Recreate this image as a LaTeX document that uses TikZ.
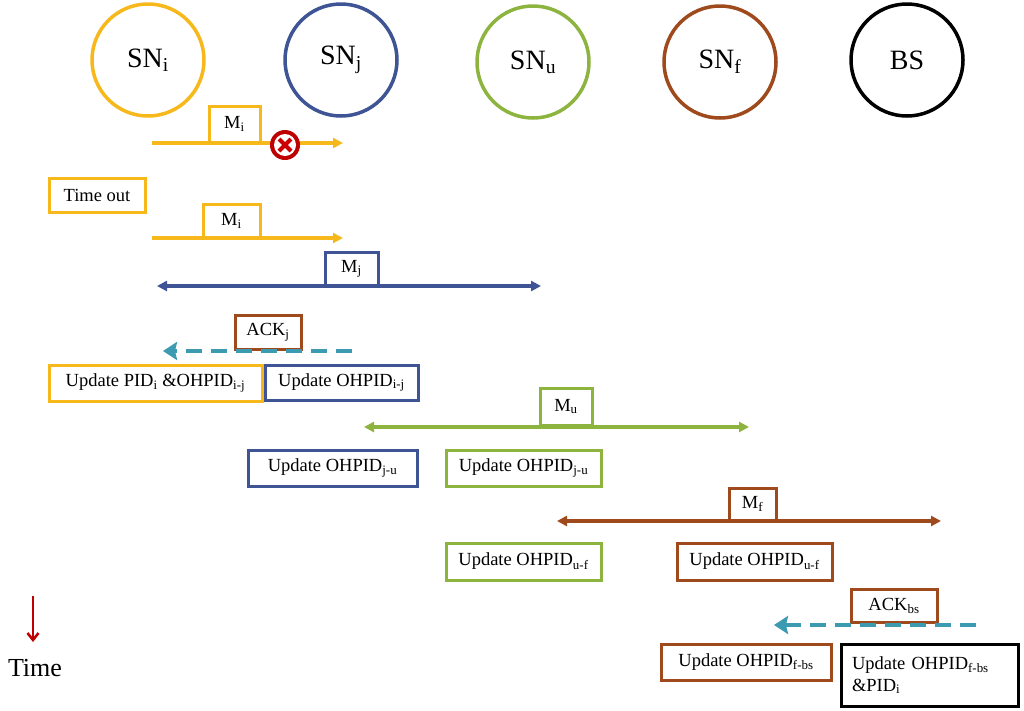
\documentclass[tikz,border=0pt]{standalone}
\usepackage{fontspec}
\setmainfont{Liberation Serif}
\usetikzlibrary{arrows.meta}
\definecolor{cy}{HTML}{F7B81C}
\definecolor{cb}{HTML}{3E5494}
\definecolor{cg}{HTML}{8DB43E}
\definecolor{cr}{HTML}{9E4A1C}
\definecolor{ct}{HTML}{3C9BB0}
\begin{document}
\begin{tikzpicture}[x=1pt,y=-1pt,
 sn/.style={circle,draw=#1,line width=3.5pt,minimum size=112pt,inner sep=0pt,font=\fontsize{28}{32}\selectfont},
 bx/.style={draw=#1,line width=3pt,inner sep=0pt,font=\fontsize{18.5}{22}\selectfont,fill=white},
 ar/.style={draw=#1,line width=3.5pt,-{Triangle[length=10pt,width=10pt]}},
 dar/.style={draw=#1,line width=3.5pt,{Triangle[length=10pt,width=10pt]}-{Triangle[length=10pt,width=10pt]}},
 dsh/.style={draw=ct,line width=4.5pt,dash pattern=on 16pt off 9pt,-{Stealth[length=14pt,width=18pt,inset=2pt]}}]
\useasboundingbox (0,0) rectangle (1024,710);
\node[sn=cy] (si) at (148,60) {SN\textsubscript{i}};
\node[sn=cb] (sj) at (341,60) {SN\textsubscript{j}};
\node[sn=cg] (su) at (533,62) {SN\textsubscript{u}};
\node[sn=cr] (sf) at (720,62) {SN\textsubscript{f}};
\node[sn=black] (bs) at (907,60) {BS};
\coordinate (a1s) at (152,143); \coordinate (a1e) at (343,143);
\draw[ar=cy] (a1s) -- (a1e);
\node[bx=cy,minimum width=51pt,minimum height=36pt] (m1) at (234.5,124) {M\textsubscript{i}};
\node[circle,fill=red!75!black,minimum size=30pt,inner sep=0pt] (x) at (285,145) {};
\node[circle,fill=white,minimum size=22pt,inner sep=0pt] at (x) {};
\draw[red!80!black,line width=4pt] ([shift={(-6,-6)}]x.center) -- ([shift={(6,6)}]x.center) ([shift={(-6,6)}]x.center) -- ([shift={(6,-6)}]x.center);
\node[bx=cy,minimum width=96pt,minimum height=34pt] (to) at (97,195) {Time out};
\coordinate (a2s) at (152,238); \coordinate (a2e) at (343,238);
\draw[ar=cy] (a2s) -- (a2e);
\node[bx=cy,minimum width=57pt,minimum height=33pt] (m2) at (231.5,221) {M\textsubscript{i}};
\coordinate (a3s) at (157,286); \coordinate (a3e) at (541,286);
\draw[dar=cb] (a3s) -- (a3e);
\node[bx=cb,minimum width=53pt,minimum height=33pt] (mj) at (351.5,269) {M\textsubscript{j}};
\node[bx=cr,minimum width=66pt,minimum height=34pt] (ackj) at (268,332) {ACK\textsubscript{j}};
\coordinate (d1s) at (352,351); \coordinate (d1e) at (163,351);
\draw[dsh] (d1s) -- (d1e);
\node[bx=cy,minimum width=213pt,minimum height=36pt] (u1) at (155.5,383) {Update PID\textsubscript{i} \&OHPID\textsubscript{i-j}};
\node[bx=cb,minimum width=153pt,minimum height=35pt] (u2) at (341.5,382.5) {Update OHPID\textsubscript{i-j}};
\coordinate (a4s) at (364,427); \coordinate (a4e) at (749,427);
\draw[dar=cg] (a4s) -- (a4e);
\node[bx=cg,minimum width=52pt,minimum height=37pt] (mu) at (566,406.5) {M\textsubscript{u}};
\node[bx=cb,minimum width=169pt,minimum height=36pt] (u3) at (332.5,468) {Update OHPID\textsubscript{j-u}};
\node[bx=cg,minimum width=155pt,minimum height=36pt] (u4) at (523.5,468) {Update OHPID\textsubscript{j-u}};
\coordinate (a5s) at (557,521); \coordinate (a5e) at (941,521);
\draw[dar=cr] (a5s) -- (a5e);
\node[bx=cr,minimum width=47pt,minimum height=32pt] (mf) at (752.5,504) {M\textsubscript{f}};
\node[bx=cg,minimum width=155pt,minimum height=37pt] (u5) at (523.5,561.5) {Update OHPID\textsubscript{u-f}};
\node[bx=cr,minimum width=155pt,minimum height=37pt] (u6) at (754.5,561.5) {Update OHPID\textsubscript{u-f}};
\node[bx=cr,minimum width=86pt,minimum height=33pt] (ackb) at (894,605.5) {ACK\textsubscript{bs}};
\coordinate (d2s) at (976,625); \coordinate (d2e) at (774,625);
\draw[dsh] (d2s) -- (d2e);
\node[bx=cr,minimum width=170pt,minimum height=36pt] (u7) at (746,662) {Update OHPID\textsubscript{f-bs}};
\node[bx=black,minimum width=177pt,minimum height=62pt,align=left,text width=155pt] (u8) at (929.5,675) {Update OHPID\textsubscript{f-bs}\\ \&PID\textsubscript{i}};
\coordinate (t1) at (33,596); \coordinate (t2) at (33,642);
\draw[red!75!black,line width=2.5pt,-{Straight Barb[length=7pt,width=11pt]}] (t1) -- (t2);
\node[font=\fontsize{26}{30}\selectfont] (time) at (35,668) {Time};
\end{tikzpicture}
\end{document}
